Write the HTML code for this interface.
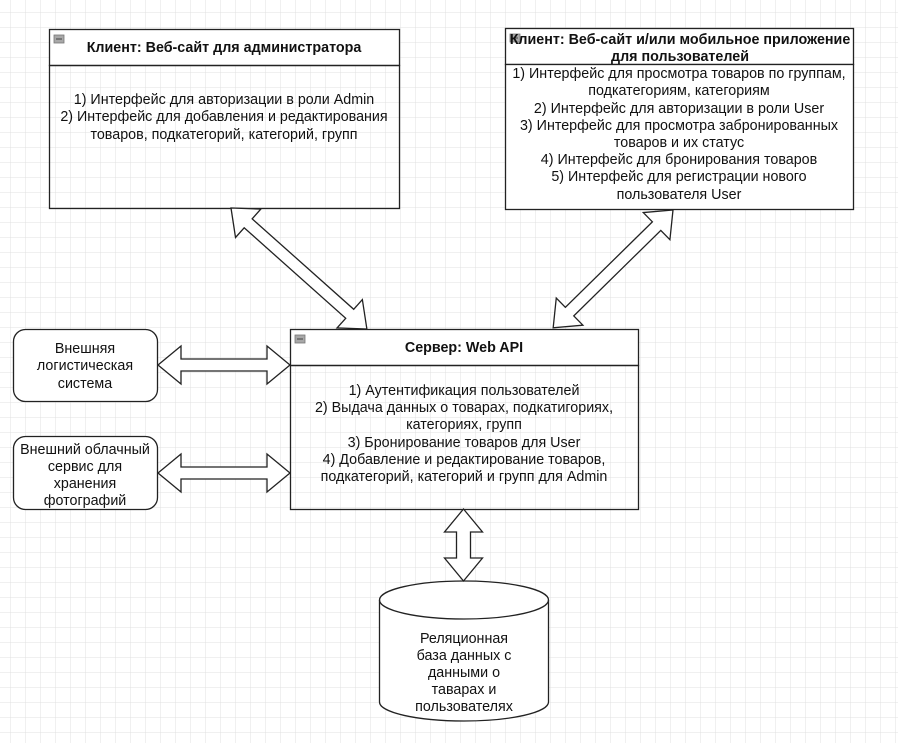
<!DOCTYPE html>
<html><head><meta charset="utf-8"><style>
html,body{margin:0;padding:0;background:#fff}
svg{display:block}
text{font-family:"Liberation Sans",Arial,sans-serif;font-size:14.3px;fill:#111}
.b{font-weight:bold}
</style></head><body>
<svg width="898" height="743" viewBox="0 0 898 743" xmlns="http://www.w3.org/2000/svg">
<defs>
<pattern id="g" x="10" y="12" width="15" height="15" patternUnits="userSpaceOnUse">
<path d="M0 0H15M0 0V15" stroke="#e0e0e0" stroke-width="1" fill="none"/>
</pattern>
</defs>
<rect width="898" height="743" fill="url(#g)"/>

<!-- Box 1 -->
<rect x="49.5" y="29.5" width="350" height="36" fill="#fff" stroke="#222" stroke-width="1.3"/>
<rect x="49.5" y="65.5" width="350" height="143" fill="none" stroke="#222" stroke-width="1.3"/>
<rect x="54" y="35" width="10" height="8" fill="#a8a8a8" stroke="#777" stroke-width="0.8"/>
<line x1="56" y1="39" x2="62" y2="39" stroke="#444"/>
<text class="b" x="224" y="52" text-anchor="middle">Клиент: Веб-сайт для администратора</text>
<g text-anchor="middle">
<text x="224" y="104">1) Интерфейс для авторизации в роли Admin</text>
<text x="224" y="121">2) Интерфейс для добавления и редактирования</text>
<text x="224" y="139">товаров, подкатегорий, категорий, групп</text>
</g>

<!-- Box 2 -->
<rect x="505.5" y="28.5" width="348" height="36" fill="#fff" stroke="#222" stroke-width="1.3"/>
<rect x="505.5" y="64.5" width="348" height="145" fill="#fff" stroke="#222" stroke-width="1.3"/>
<rect x="510" y="34" width="10" height="8" fill="#a8a8a8" stroke="#777" stroke-width="0.8"/>
<line x1="512" y1="38" x2="518" y2="38" stroke="#444"/>
<g text-anchor="middle">
<text class="b" x="680" y="44">Клиент: Веб-сайт и/или мобильное приложение</text>
<text class="b" x="680" y="61">для пользователей</text>
<text x="679" y="78">1) Интерфейс для просмотра товаров по группам,</text>
<text x="679" y="95">подкатегориям, категориям</text>
<text x="679" y="113">2) Интерфейс для авторизации в роли User</text>
<text x="679" y="130">3) Интерфейс для просмотра забронированных</text>
<text x="679" y="147">товаров и их статус</text>
<text x="679" y="164">4) Интерфейс для бронирования товаров</text>
<text x="679" y="181">5) Интерфейс для регистрации нового</text>
<text x="679" y="199">пользователя User</text>
</g>

<!-- Server -->
<rect x="290.5" y="329.5" width="348" height="36" fill="#fff" stroke="#222" stroke-width="1.3"/>
<rect x="290.5" y="365.5" width="348" height="144" fill="none" stroke="#222" stroke-width="1.3"/>
<rect x="295" y="335" width="10" height="8" fill="#a8a8a8" stroke="#777" stroke-width="0.8"/>
<line x1="297" y1="339" x2="303" y2="339" stroke="#444"/>
<g text-anchor="middle">
<text class="b" x="464" y="352">Сервер: Web API</text>
<text x="464" y="395">1) Аутентификация пользователей</text>
<text x="464" y="412">2) Выдача данных о товарах, подкатигориях,</text>
<text x="464" y="429">категориях, групп</text>
<text x="464" y="447">3) Бронирование товаров для User</text>
<text x="464" y="464">4) Добавление и редактирование товаров,</text>
<text x="464" y="481">подкатегорий, категорий и групп для Admin</text>
</g>

<!-- Side boxes -->
<rect x="13.5" y="329.5" width="144" height="72" rx="12" fill="#fff" stroke="#222" stroke-width="1.3"/>
<g text-anchor="middle">
<text x="85" y="353">Внешняя</text>
<text x="85" y="370">логистическая</text>
<text x="85" y="388">система</text>
</g>
<rect x="13.5" y="436.5" width="144" height="73" rx="12" fill="#fff" stroke="#222" stroke-width="1.3"/>
<g text-anchor="middle">
<text x="85" y="454">Внешний облачный</text>
<text x="85" y="471">сервис для</text>
<text x="85" y="488">хранения</text>
<text x="85" y="505">фотографий</text>
</g>

<!-- Cylinder -->
<path d="M379.5 600 A84.5 19 0 0 1 548.5 600 V702 A84.5 19 0 0 1 379.5 702 Z" fill="#fff" stroke="#222" stroke-width="1.3"/>
<path d="M379.5 600 A84.5 19 0 0 0 548.5 600" fill="none" stroke="#222" stroke-width="1.3"/>
<g text-anchor="middle">
<text x="464" y="643">Реляционная</text>
<text x="464" y="660">база данных с</text>
<text x="464" y="677">данными о</text>
<text x="464" y="694">таварах и</text>
<text x="464" y="711">пользователях</text>
</g>

<!-- Arrows -->
<g fill="#fff" stroke="#222" stroke-width="1.3" stroke-linejoin="miter">
<polygon points="0,0 23,-19 23,-6 109,-6 109,-19 132,0 109,19 109,6 23,6 23,19" transform="translate(158,365)"/>
<polygon points="0,0 23,-19 23,-6 109,-6 109,-19 132,0 109,19 109,6 23,6 23,19" transform="translate(158,473)"/>
<polygon points="0,0 23,-19 23,-7 49,-7 49,-19 72,0 49,19 49,7 23,7 23,19" transform="translate(463.5,509) rotate(90)"/>
<polygon points="0,0 23,-19 23,-6 159,-6 159,-19 182,0 159,19 159,6 23,6 23,19" transform="translate(231,208) rotate(41.7)"/>
<polygon points="0,0 23,-19 23,-6 145,-6 145,-19 168,0 145,19 145,6 23,6 23,19" transform="translate(673,210) rotate(135.5)"/>
</g>
</svg>
</body></html>
